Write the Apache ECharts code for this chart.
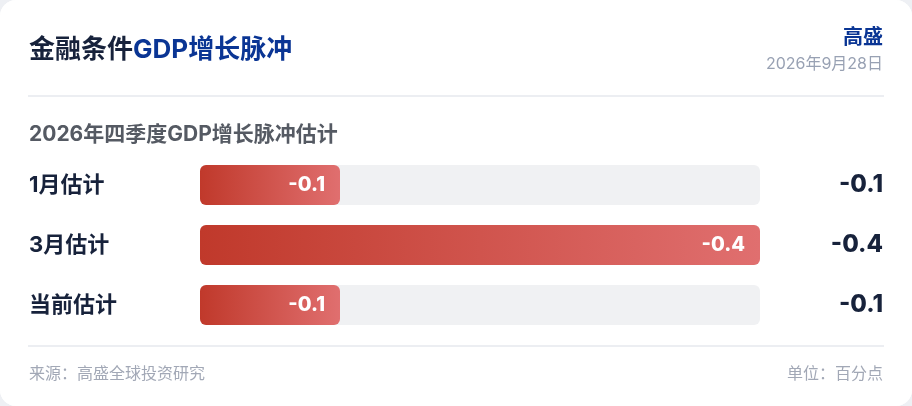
<!DOCTYPE html>
<html>
<head>
<meta charset="utf-8">
<script src="https://cdn.jsdelivr.net/npm/echarts@6/dist/echarts.min.js"></script>
<style>
html,body{margin:0;padding:0;background:#eef0f4;}
#c{width:912px;height:406px;background:#fff;border-radius:16px;overflow:hidden;}
</style>
</head>
<body>
<div id="c"></div>
<script>
var categories = ['1月估计', '3月估计', '当前估计'];
var values = [-0.1, -0.4, -0.1];
var axisMin = -0.4;
var axisMax = 0;

var FONT = 'Inter, "Noto Sans CJK SC", "Noto Sans", sans-serif';
var chart = echarts.init(document.getElementById('c'), null, {renderer: 'canvas'});
var fmt = function (v) { return v.toFixed(1); };

var option = {
  backgroundColor: '#ffffff',
  animation: false,
  textStyle: {fontFamily: FONT},
  grid: {left: 200, right: 152, top: 155, bottom: 71},
  xAxis: {
    type: 'value', min: axisMin, max: axisMax, inverse: true,
    show: false
  },
  yAxis: [{
    type: 'category', data: categories, inverse: true,
    axisLine: {show: false}, axisTick: {show: false}, splitLine: {show: false},
    axisLabel: {align: 'left', margin: 171, fontSize: 22, fontWeight: 'bold', color: '#17223b', fontFamily: FONT}
  }, {
    type: 'category', data: values.map(fmt), inverse: true, position: 'right',
    axisLine: {show: false}, axisTick: {show: false}, splitLine: {show: false},
    axisLabel: {align: 'right', margin: 123, fontSize: 24, fontWeight: 800, color: '#17223b', fontFamily: FONT}
  }],
  series: [{
    type: 'bar',
    data: values,
    barWidth: 40,
    showBackground: true,
    backgroundStyle: {color: '#f0f1f3', borderRadius: 6},
    itemStyle: {
      borderRadius: 6,
      color: new echarts.graphic.LinearGradient(0, 0, 1, 0, [
        {offset: 0, color: '#c0392b'},
        {offset: 1, color: '#e06f6f'}
      ])
    },
    label: {
      show: true, position: 'insideRight', distance: 15,
      formatter: function (p) { return fmt(p.value); },
      color: '#ffffff', fontSize: 20, fontWeight: 800, fontFamily: FONT
    }
  }],
  graphic: [
    {type: 'text', left: 29, top: 37, style: {
      text: '{a|金融条件}{b|GDP增长脉冲}',
      rich: {
        a: {fontSize: 26, fontWeight: 'bold', fill: '#17223b', fontFamily: FONT},
        b: {fontSize: 26, fontWeight: 'bold', fill: '#0a3594', fontFamily: FONT}
      }
    }},
    {type: 'text', right: 29, top: 28, style: {
      text: '高盛', fontSize: 20, fontWeight: 'bold', fill: '#0a3594', fontFamily: FONT
    }},
    {type: 'text', right: 29, top: 56, style: {
      text: '2026年9月28日', fontSize: 16, fill: '#98a1b3', fontFamily: FONT
    }},
    {type: 'rect', shape: {x: 28, y: 95, width: 856, height: 2}, style: {fill: '#eceef2'}},
    {type: 'text', left: 29, top: 124, style: {
      text: '2026年四季度GDP增长脉冲估计', fontSize: 21, fontWeight: 'bold', fill: '#555a63', fontFamily: FONT
    }},
    {type: 'rect', shape: {x: 28, y: 345, width: 856, height: 2}, style: {fill: '#eceef2'}},
    {type: 'text', left: 29, top: 366, style: {
      text: '来源：高盛全球投资研究', fontSize: 16, fill: '#a2a8b6', fontFamily: FONT
    }},
    {type: 'text', right: 29, top: 366, style: {
      text: '单位：百分点', fontSize: 16, fill: '#a2a8b6', fontFamily: FONT
    }}
  ]
};
chart.setOption(option);
</script>
</body>
</html>
